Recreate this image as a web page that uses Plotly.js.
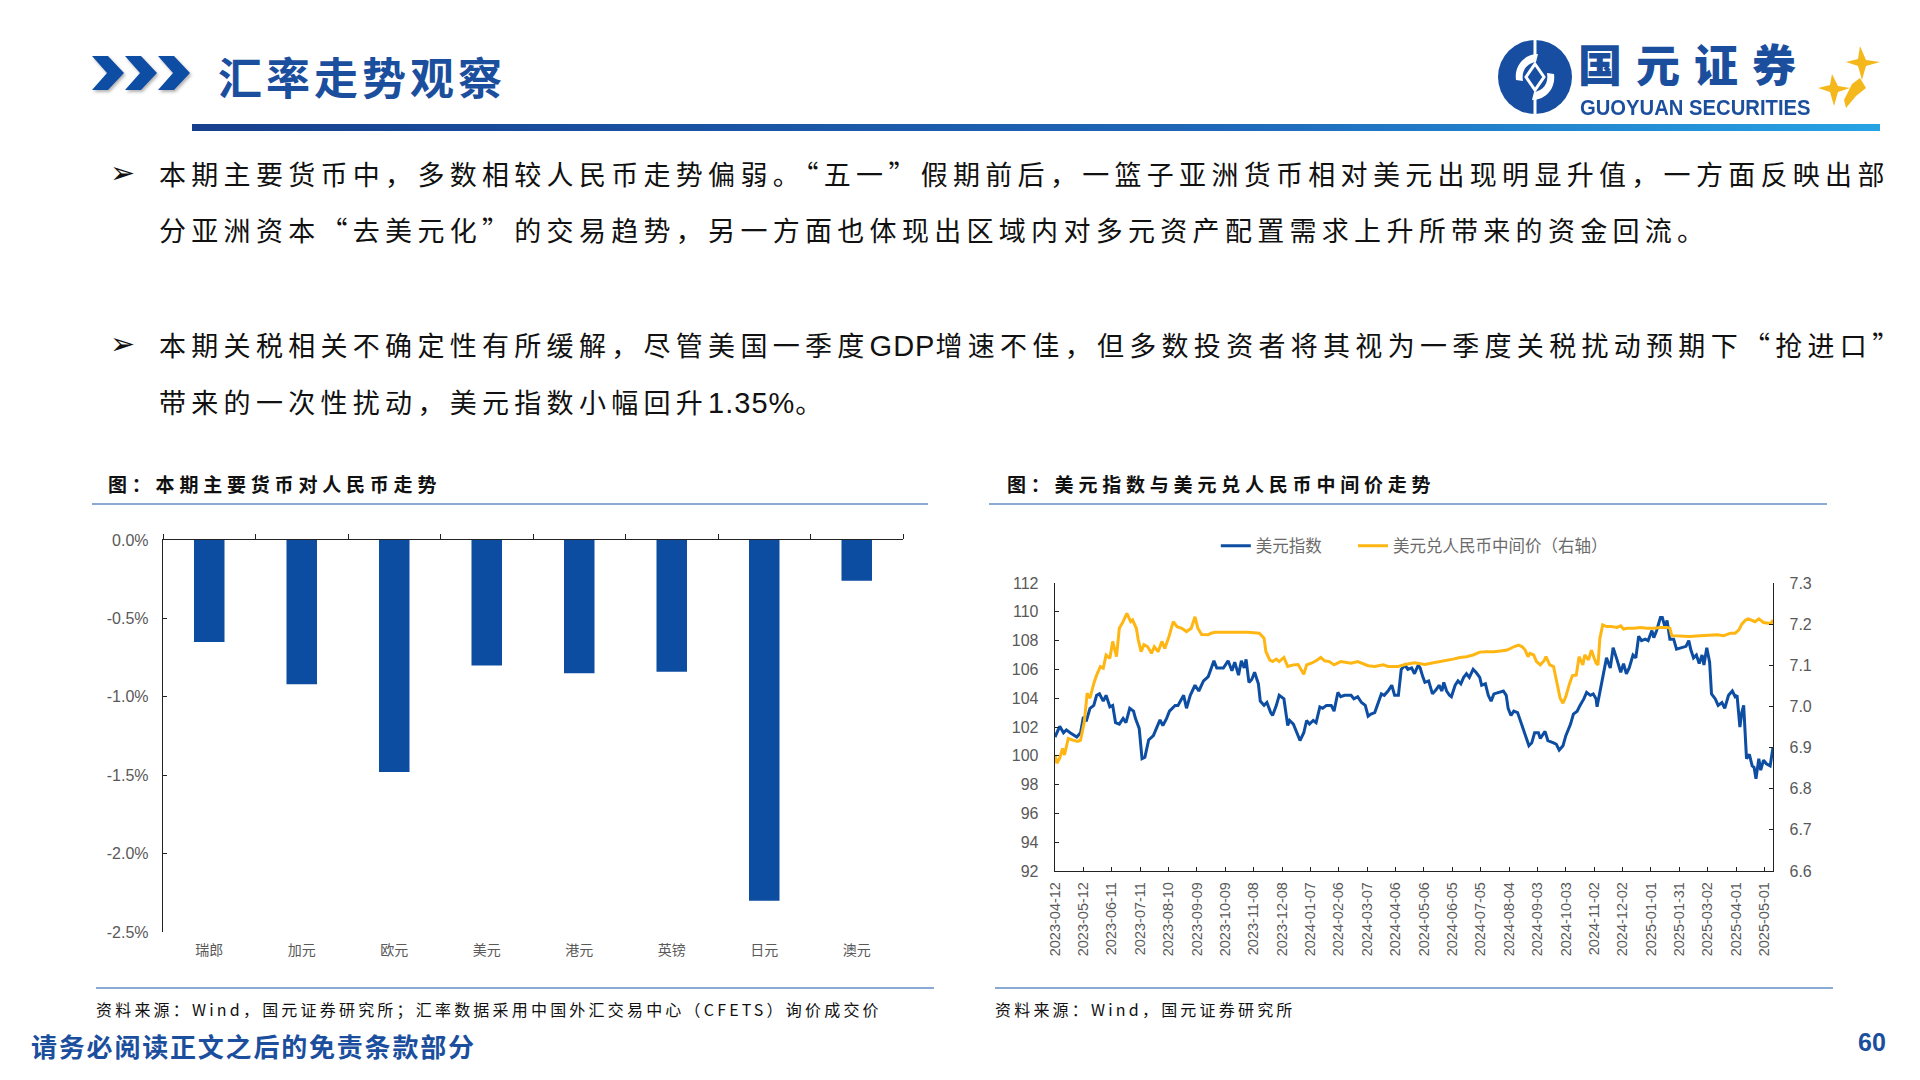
<!DOCTYPE html>
<html>
<head>
<meta charset="utf-8">
<script src="https://cdn.plot.ly/plotly-3.0.1.min.js"></script>
<style>
  html, body { margin:0; padding:0; background:#fff; }
  body { width:1920px; height:1080px; position:relative; overflow:hidden; font-family:"Noto Sans CJK SC","Noto Sans",sans-serif; }
  .abs { position:absolute; }
  .title { left:218px; top:44px; font-size:44px; color:#1b4f9e; font-weight:700; letter-spacing:4px; line-height:64px; }
  .hline { left:192px; top:124px; width:1688px; height:7px; background:linear-gradient(to right,#173f8e,#1f67b8 60%,#27a3e3); }
  .para { left:159px; font-size:27px; letter-spacing:5.3px; color:#111; white-space:nowrap; line-height:40px; }
  .lat { font-family:"Liberation Sans",Arial,sans-serif; font-size:29px; letter-spacing:1px; }
  .bullet { left:110px; font-size:30px; color:#111; line-height:40px; font-family:"DejaVu Sans",sans-serif; font-weight:700; }
  .ctitle { font-size:19px; font-weight:700; color:#111; letter-spacing:4.8px; line-height:30px; white-space:nowrap; }
  .cline { height:2px; background:#8aa9d3; }
  .src { font-size:16px; color:#111; letter-spacing:3.2px; line-height:24px; white-space:nowrap; }
  .foot { left:31px; top:1028px; font-size:26px; font-weight:700; color:#1b4f9e; letter-spacing:1.8px; line-height:36px; }
  .page { left:1858px; top:1024px; font-size:25px; font-weight:700; color:#1b4f9e; line-height:36px; font-family:"Liberation Sans",Arial,sans-serif; }
</style>
</head>
<body>
<!-- header chevrons -->
<svg class="abs" style="left:88px;top:52px" width="110" height="44" viewBox="0 0 110 44">
  <defs><filter id="sh" x="-20%" y="-20%" width="140%" height="150%"><feDropShadow dx="1.5" dy="2" stdDeviation="1.5" flood-color="#555" flood-opacity="0.45"/></filter></defs>
  <g fill="#0d4ea3" filter="url(#sh)">
    <polygon points="4,4 20,4 36,21 20,38 4,38 19,21"/>
    <polygon points="37,4 53,4 69,21 53,38 37,38 52,21"/>
    <polygon points="70,4 86,4 102,21 86,38 70,38 85,21"/>
  </g>
</svg>
<div class="abs title">汇率走势观察</div>

<!-- logo -->
<svg class="abs" style="left:1494px;top:36px" width="82" height="82" viewBox="0 0 82 82">
  <circle cx="41" cy="41" r="37" fill="#174ea1"/>
  <path d="M22,44 C20,30 30,18 44,18 L42,26 C33,27 27,35 29,45 Z" fill="#fff"/>
  <path d="M60,38 C62,52 52,64 38,64 L40,56 C49,55 55,47 53,37 Z" fill="#fff"/>
  <polygon points="41,28 50,41 41,54 32,41" fill="#174ea1" stroke="#fff" stroke-width="3"/>
  <rect x="39.5" y="2" width="3" height="20" fill="#fff"/>
  <rect x="39.5" y="60" width="3" height="20" fill="#fff"/>
</svg>
<div class="abs" style="left:1578px;top:41px;font-size:44px;font-weight:900;color:#1b4f9e;letter-spacing:14px;line-height:44px;white-space:nowrap;">国元证券</div>
<div class="abs" style="left:1580px;top:97px;font-size:22px;font-weight:700;color:#1b4f9e;line-height:22px;white-space:nowrap;font-family:'Liberation Sans',Arial,sans-serif;transform:scaleX(0.92);transform-origin:0 0;">GUOYUAN SECURITIES</div>
<svg class="abs" style="left:1816px;top:44px" width="66" height="70" viewBox="0 0 66 70">
  <g fill="#f5b81c">
    <polygon points="44,2 50,16 64,18 50,22 46,36 42,22 30,18 42,15"/>
    <polygon points="16,30 22,42 34,44 22,48 18,62 14,48 2,44 14,41"/>
    <polygon points="36,40 44,34 50,44 40,52 30,64 28,56"/>
  </g>
</svg>
<div class="abs hline"></div>

<!-- bullets -->
<div class="abs bullet" style="top:153px">➢</div>
<div class="abs para" style="top:154px">本期主要货币中，多数相较人民币走势偏弱。“五一”假期前后，一篮子亚洲货币相对美元出现明显升值，一方面反映出部</div>
<div class="abs para" style="top:210px">分亚洲资本“去美元化”的交易趋势，另一方面也体现出区域内对多元资产配置需求上升所带来的资金回流。</div>
<div class="abs bullet" style="top:324px">➢</div>
<div class="abs para" style="top:325px">本期关税相关不确定性有所缓解，尽管美国一季度<span class="lat">GDP</span>增速不佳，但多数投资者将其视为一季度关税扰动预期下“抢进口”</div>
<div class="abs para" style="top:382px">带来的一次性扰动，美元指数小幅回升<span class="lat">1.35%</span>。</div>

<!-- chart titles -->
<div class="abs ctitle" style="left:108px;top:469px">图：本期主要货币对人民币走势</div>
<div class="abs cline" style="left:92px;top:503px;width:836px"></div>
<div class="abs ctitle" style="left:1007px;top:469px">图：美元指数与美元兑人民币中间价走势</div>
<div class="abs cline" style="left:989px;top:503px;width:838px"></div>

<div id="left" class="abs" style="left:60px;top:520px;width:900px;height:470px"></div>
<div id="right" class="abs" style="left:980px;top:520px;width:880px;height:470px"></div>

<div class="abs cline" style="left:96px;top:987px;width:838px"></div>
<div class="abs cline" style="left:995px;top:987px;width:838px"></div>
<div class="abs src" style="left:96px;top:997px">资料来源：Wind，国元证券研究所；汇率数据采用中国外汇交易中心（CFETS）询价成交价</div>
<div class="abs src" style="left:995px;top:997px">资料来源：Wind，国元证券研究所</div>

<div class="abs foot">请务必阅读正文之后的免责条款部分</div>
<div class="abs page">60</div>

<script>
// ---------- left chart data ----------
const currencies = ['瑞郎','加元','欧元','美元','港元','英镑','日元','澳元'];
const changePct  = [-0.65, -0.92, -1.48, -0.80, -0.85, -0.84, -2.30, -0.26];
const pctTickVals = [0, -0.5, -1.0, -1.5, -2.0, -2.5];
const pctTickText = ['0.0%','-0.5%','-1.0%','-1.5%','-2.0%','-2.5%'];

// ---------- right chart data ----------
const dxyDates = ['2023-04-12','2023-04-17','2023-04-21','2023-04-24','2023-04-28','2023-05-05','2023-05-09','2023-05-12','2023-05-15','2023-05-19','2023-05-23','2023-05-26','2023-05-29','2023-06-02','2023-06-05','2023-06-09','2023-06-12','2023-06-15','2023-06-19','2023-06-23','2023-06-26','2023-06-30','2023-07-04','2023-07-06','2023-07-10','2023-07-13','2023-07-16','2023-07-20','2023-07-25','2023-07-28','2023-08-01','2023-08-04','2023-08-08','2023-08-11','2023-08-17','2023-08-20','2023-08-26','2023-08-29','2023-09-02','2023-09-07','2023-09-11','2023-09-16','2023-09-21','2023-09-27','2023-09-30','2023-10-07','2023-10-12','2023-10-16','2023-10-19','2023-10-23','2023-10-26','2023-10-29','2023-10-31','2023-11-03','2023-11-06','2023-11-09','2023-11-13','2023-11-15','2023-11-19','2023-11-22','2023-11-26','2023-11-28','2023-12-02','2023-12-05','2023-12-10','2023-12-14','2023-12-16','2023-12-20','2023-12-23','2023-12-27','2023-12-31','2024-01-03','2024-01-06','2024-01-10','2024-01-13','2024-01-17','2024-01-20','2024-01-24','2024-01-29','2024-02-01','2024-02-05','2024-02-08','2024-02-12','2024-02-19','2024-02-22','2024-02-26','2024-03-01','2024-03-05','2024-03-08','2024-03-11','2024-03-15','2024-03-18','2024-03-22','2024-03-25','2024-03-29','2024-04-02','2024-04-05','2024-04-09','2024-04-12','2024-04-16','2024-04-19','2024-04-23','2024-04-26','2024-04-30','2024-05-02','2024-05-05','2024-05-07','2024-05-11','2024-05-15','2024-05-19','2024-05-22','2024-05-25','2024-05-27','2024-05-30','2024-06-02','2024-06-04','2024-06-08','2024-06-11','2024-06-14','2024-06-17','2024-06-20','2024-06-23','2024-06-27','2024-06-30','2024-07-04','2024-07-06','2024-07-10','2024-07-13','2024-07-16','2024-07-19','2024-07-24','2024-07-29','2024-08-01','2024-08-03','2024-08-06','2024-08-09','2024-08-13','2024-08-16','2024-08-19','2024-08-23','2024-08-25','2024-08-28','2024-08-31','2024-09-04','2024-09-06','2024-09-11','2024-09-14','2024-09-20','2024-09-23','2024-09-26','2024-09-30','2024-10-03','2024-10-08','2024-10-11','2024-10-15','2024-10-18','2024-10-22','2024-10-25','2024-10-29','2024-11-01','2024-11-04','2024-11-05','2024-11-08','2024-11-12','2024-11-15','2024-11-19','2024-11-22','2024-11-26','2024-11-30','2024-12-03','2024-12-06','2024-12-09','2024-12-13','2024-12-16','2024-12-19','2024-12-22','2024-12-26','2024-12-29','2025-01-02','2025-01-04','2025-01-07','2025-01-11','2025-01-13','2025-01-16','2025-01-18','2025-01-21','2025-01-25','2025-01-28','2025-02-03','2025-02-07','2025-02-10','2025-02-12','2025-02-15','2025-02-18','2025-02-21','2025-02-24','2025-02-26','2025-03-01','2025-03-04','2025-03-06','2025-03-10','2025-03-13','2025-03-17','2025-03-20','2025-03-24','2025-03-28','2025-03-31','2025-04-02','2025-04-05','2025-04-07','2025-04-09','2025-04-12','2025-04-15','2025-04-18','2025-04-20','2025-04-22','2025-04-25','2025-04-27','2025-04-30','2025-05-03','2025-05-07','2025-05-10'];
const dxyValues = [101.3,102.05,101.6,101.8,101.6,101.3,101.6,102.7,102.4,103.3,103.5,104.2,104.3,103.8,104.2,103.4,103.5,102.3,102.2,102.6,102.3,103.3,103.1,102.6,101.9,99.8,99.9,101.1,101.4,101.9,102.5,102.1,102.6,103.1,103.5,103.5,104.2,103.3,104.2,104.9,104.5,105.2,105.5,106.6,106.1,106.1,106.6,105.9,106.5,105.6,106.6,106.1,106.7,105.1,105.3,105.8,105.0,103.8,103.5,103.7,103.0,102.8,103.5,104.2,103.95,102.1,102.45,102.2,101.75,101.06,101.6,102.45,102.2,102.45,102.3,103.4,103.3,103.5,103.5,103.1,104.4,104.1,104.2,104.2,103.95,104.1,103.7,103.5,102.75,102.9,103.0,103.5,104.3,104.2,104.5,104.9,104.2,104.2,106.0,106.3,106.0,106.1,105.7,106.3,106.1,105.45,105.1,105.2,104.3,104.6,104.9,104.5,105.1,104.5,104.2,104.1,104.9,105.2,105.0,105.45,105.7,105.45,106.0,105.8,105.45,104.9,105.0,104.2,103.8,104.3,104.4,104.5,104.2,103.3,102.8,103.1,103.0,102.45,101.9,101.2,100.7,100.9,101.6,101.6,101.2,101.7,101.06,100.9,100.8,100.4,100.7,101.4,102.2,102.9,103.1,103.5,103.95,104.4,104.2,104.3,103.95,103.4,104.4,105.6,106.8,106.1,107.5,106.7,105.8,106.4,105.7,106.1,107.0,106.8,108.3,108.0,108.1,108.0,108.7,108.2,108.7,109.6,109.6,108.9,109.4,108.1,108.1,107.4,107.5,107.6,108.0,107.4,106.8,107.0,106.4,107.0,106.3,107.5,106.5,104.3,103.95,103.5,103.7,103.3,104.2,104.5,104.1,104.2,102.0,103.0,103.5,99.8,100.1,99.3,99.2,98.4,99.8,99.0,99.7,99.45,99.3,100.6];

const cnyDates = ['2023-04-12','2023-04-14','2023-04-17','2023-04-20','2023-04-22','2023-04-26','2023-05-01','2023-05-06','2023-05-09','2023-05-13','2023-05-16','2023-05-19','2023-05-23','2023-05-26','2023-05-30','2023-06-02','2023-06-05','2023-06-09','2023-06-12','2023-06-16','2023-06-19','2023-06-23','2023-06-27','2023-07-01','2023-07-03','2023-07-07','2023-07-09','2023-07-12','2023-07-15','2023-07-19','2023-07-23','2023-07-26','2023-07-30','2023-08-03','2023-08-06','2023-08-10','2023-08-15','2023-08-19','2023-08-24','2023-08-29','2023-09-03','2023-09-07','2023-09-10','2023-09-14','2023-09-21','2023-09-24','2023-09-28','2023-10-08','2023-10-22','2023-11-02','2023-11-14','2023-11-19','2023-11-21','2023-11-25','2023-11-28','2023-12-02','2023-12-05','2023-12-10','2023-12-14','2023-12-20','2023-12-25','2023-12-28','2023-12-31','2024-01-03','2024-01-08','2024-01-13','2024-01-18','2024-01-22','2024-01-27','2024-02-01','2024-02-08','2024-02-19','2024-02-26','2024-03-08','2024-03-15','2024-03-24','2024-03-29','2024-04-09','2024-04-16','2024-04-26','2024-05-07','2024-05-16','2024-05-23','2024-05-30','2024-06-06','2024-06-13','2024-06-20','2024-06-27','2024-07-04','2024-07-11','2024-07-19','2024-07-26','2024-08-02','2024-08-09','2024-08-14','2024-08-18','2024-08-21','2024-08-24','2024-08-26','2024-08-30','2024-09-02','2024-09-06','2024-09-10','2024-09-12','2024-09-16','2024-09-20','2024-09-23','2024-09-25','2024-09-27','2024-09-30','2024-10-03','2024-10-07','2024-10-10','2024-10-14','2024-10-17','2024-10-21','2024-10-23','2024-10-27','2024-10-30','2024-11-02','2024-11-04','2024-11-06','2024-11-08','2024-11-11','2024-11-15','2024-11-20','2024-11-26','2024-11-30','2024-12-03','2024-12-07','2024-12-14','2024-12-21','2024-12-28','2025-01-04','2025-01-11','2025-01-18','2025-01-21','2025-01-23','2025-02-01','2025-02-11','2025-02-22','2025-03-05','2025-03-12','2025-03-19','2025-03-26','2025-03-31','2025-04-04','2025-04-07','2025-04-11','2025-04-14','2025-04-18','2025-04-21','2025-04-25','2025-04-30','2025-05-05','2025-05-08','2025-05-10'];
const cnyValues = [6.882,6.862,6.874,6.898,6.882,6.922,6.918,6.915,6.918,6.963,7.032,7.020,7.056,7.076,7.097,7.093,7.125,7.117,7.158,7.121,7.19,7.206,7.226,7.206,7.21,7.19,7.162,7.133,7.15,7.145,7.129,7.145,7.133,7.158,7.141,7.166,7.206,7.194,7.19,7.182,7.19,7.218,7.19,7.175,7.174,7.178,7.18,7.18,7.18,7.18,7.178,7.166,7.133,7.113,7.109,7.115,7.109,7.119,7.097,7.101,7.102,7.089,7.078,7.101,7.105,7.111,7.119,7.111,7.109,7.101,7.109,7.105,7.109,7.099,7.097,7.101,7.097,7.097,7.102,7.106,7.102,7.106,7.109,7.111,7.115,7.119,7.121,7.125,7.132,7.133,7.133,7.135,7.137,7.145,7.149,7.145,7.137,7.121,7.129,7.125,7.109,7.101,7.111,7.121,7.101,7.097,7.06,7.044,7.020,7.008,7.024,7.056,7.075,7.076,7.121,7.101,7.125,7.113,7.137,7.117,7.105,7.101,7.166,7.198,7.194,7.194,7.192,7.196,7.188,7.19,7.19,7.192,7.19,7.19,7.192,7.192,7.19,7.172,7.171,7.17,7.172,7.174,7.174,7.172,7.178,7.178,7.186,7.2,7.21,7.213,7.21,7.206,7.213,7.204,7.202,7.202,7.21];

const dateTicks = ['2023-04-12','2023-05-12','2023-06-11','2023-07-11','2023-08-10','2023-09-09','2023-10-09','2023-11-08','2023-12-08','2024-01-07','2024-02-06','2024-03-07','2024-04-06','2024-05-06','2024-06-05','2024-07-05','2024-08-04','2024-09-03','2024-10-03','2024-11-02','2024-12-02','2025-01-01','2025-01-31','2025-03-02','2025-04-01','2025-05-01'];
const seriesNames = ['美元指数','美元兑人民币中间价（右轴）'];

const tickFont = {family:'"Liberation Sans", Arial, sans-serif', size:16, color:'#595959'};
const cjkFont = {family:'"Noto Sans CJK SC", sans-serif', size:14, color:'#595959'};
const legendFont = {family:'"Noto Sans CJK SC", sans-serif', size:16.5, color:'#6b6b6b'};

// ---------- left bar chart ----------
Plotly.newPlot('left', [
  {type:'bar', x:currencies, y:changePct, marker:{color:'#0c4da2'}, hoverinfo:'x+y'},
  {type:'scatter', mode:'markers', x:currencies, y:changePct, xaxis:'x2', marker:{opacity:0}, hoverinfo:'skip', showlegend:false}
], {
  width:900, height:470, margin:{l:103, r:57, t:20, b:58, autoexpand:false},
  paper_bgcolor:'#fff', plot_bgcolor:'#fff', showlegend:false, bargap:0.67,
  xaxis:{type:'category', range:[-0.5,7.5], showline:false, ticks:'', showgrid:false, zeroline:false,
         tickfont:cjkFont, ticklabelstandoff:8, fixedrange:true},
  xaxis2:{type:'category', overlaying:'x', side:'top', anchor:'y', range:[-0.5,7.5], categoryarray:currencies,
          showline:true, linecolor:'#222', linewidth:1.3, ticks:'outside', ticklen:5, tickcolor:'#222',
          tickson:'boundaries', showticklabels:false, showgrid:false, zeroline:false},
  yaxis:{range:[-2.5,0], tickvals:pctTickVals, ticktext:pctTickText, showline:true, linecolor:'#222', linewidth:1.3,
         ticks:'inside', ticklen:4, tickcolor:'#222', showgrid:false, zeroline:false, tickfont:tickFont, ticklabelstandoff:10}
}, {displayModeBar:false, staticPlot:true});

// ---------- right line chart ----------
Plotly.newPlot('right', [
  {type:'scatter', mode:'lines', name:seriesNames[0], x:dxyDates, y:dxyValues, line:{color:'#0d4ea3', width:3}, legend:'legend'},
  {type:'scatter', mode:'lines', name:seriesNames[1], x:cnyDates, y:cnyValues, yaxis:'y2', line:{color:'#ffb612', width:3}, legend:'legend2'}
], {
  width:880, height:470, margin:{l:75, r:87, t:63, b:119, autoexpand:false},
  paper_bgcolor:'#fff', plot_bgcolor:'rgba(0,0,0,0)', showlegend:true,
  legend:{orientation:'h', x:0.224, xanchor:'left', y:1.128, yanchor:'middle', font:legendFont, bgcolor:'rgba(0,0,0,0)'},
  legend2:{orientation:'h', x:0.415, xanchor:'left', y:1.128, yanchor:'middle', font:legendFont, bgcolor:'rgba(0,0,0,0)'},
  xaxis:{type:'date', range:['2023-04-12','2025-05-10'], tickvals:dateTicks, ticktext:dateTicks, tickangle:-90,
         showline:true, linecolor:'#222', linewidth:1.3, ticks:'inside', ticklen:4, tickcolor:'#222', showgrid:false, zeroline:false,
         tickfont:{family:'"Liberation Sans", Arial, sans-serif', size:14.5, color:'#595959'}, ticklabelstandoff:4},
  yaxis:{range:[92,112], dtick:2, showline:true, linecolor:'#222', linewidth:1.3, ticks:'inside', ticklen:4, tickcolor:'#222',
         showgrid:false, zeroline:false, tickfont:tickFont, ticklabelstandoff:12},
  yaxis2:{range:[6.6,7.3], dtick:0.1, tickformat:'.1f', overlaying:'y', side:'right', showline:true, linecolor:'#222', linewidth:1.3,
          ticks:'inside', ticklen:4, tickcolor:'#222', showgrid:false, zeroline:false, tickfont:tickFont, ticklabelstandoff:12}
}, {displayModeBar:false, staticPlot:true});
</script>
</body>
</html>
